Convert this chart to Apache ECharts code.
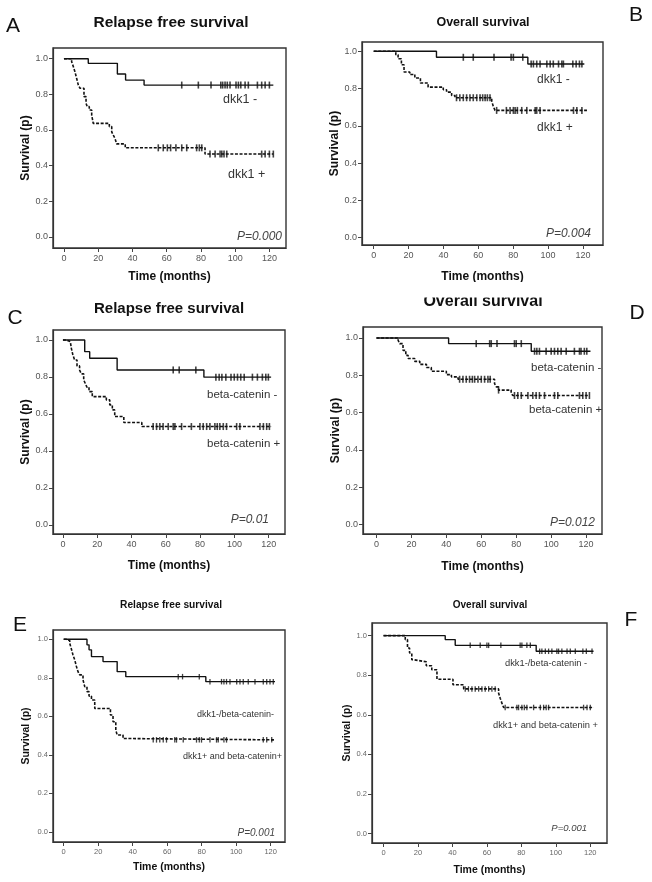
<!DOCTYPE html>
<html>
<head>
<meta charset="utf-8">
<script src="https://cdn.jsdelivr.net/npm/echarts@6/dist/echarts.min.js"></script>
<style>
  html, body { margin: 0; padding: 0; background: #fff; }
  #main { width: 652px; height: 882px; }
</style>
</head>
<body>
<div id="main"></div>
<script>
// tick values
var timeTicks = [0, 20, 40, 60, 80, 100, 120];
var survTicks = [0, 0.2, 0.4, 0.6, 0.8, 1.0];

// A - relapse free survival by dkk1  ([time, survival] after each step)
var aNeg = [[0,1],[14.2,0.974],[31.2,0.914],[36,0.88],[46.8,0.852],[122.3,0.852]];
var aNegCens = [68.8,78.5,85.9,91.6,92.7,94.1,95.4,97,100.5,101.9,103.3,105.8,107.7,113,115.5,117.5,120];
var aPos = [[0,1],[4.5,0.983],[5.5,0.955],[6.4,0.927],[7.4,0.89],[8.4,0.852],[9.4,0.834],[11.7,0.787],[12.9,0.75],
  [13.6,0.731],[14.8,0.712],[16.2,0.684],[17.1,0.637],[26.5,0.619],[27.9,0.59],[28.8,0.572],[29.8,0.553],[30.8,0.522],
  [35.8,0.5],[82.4,0.465],[122.3,0.465]];
var aPosCens = [55.1,58,60.4,62.3,65.4,68.8,71.7,77.5,79.1,80.5,85.3,88.3,91.2,92.2,93.5,95.1,115.5,117.5,120,122.3];

// B - overall survival by dkk1
var bNeg = [[0,1],[36,0.968],[88.4,0.932],[120.8,0.932]];
var bNegCens = [51.4,57.1,69,78.8,80.1,85.5,90.3,91.6,93.5,95.4,99.3,101.2,103,106,107.9,108.8,114.2,116.1,118,119.4];
var bPos = [[0,1],[12.7,0.982],[14,0.96],[15.9,0.928],[17.4,0.889],[20.7,0.876],[23.6,0.857],[26.8,0.83],[31.2,0.808],
  [39.9,0.794],[41.8,0.781],[44.7,0.763],[46.6,0.751],[67.7,0.733],[68.6,0.704],[69.6,0.683],[122.3,0.683]];
var bPosCens = [47.5,49.4,51.4,53.3,55.2,57.1,59.1,61,62.5,63.9,65.2,66.7,70.5,76.1,78.2,80.1,81.1,82.4,84.9,87.8,
  92.6,93.5,95.4,114.6,116.5,119.4];

// C - relapse free survival by beta-catenin
var cNeg = [[0,1],[12.7,0.937],[15.6,0.901],[31.6,0.838],[82.2,0.799],[121.4,0.799]];
var cNegCens = [64.3,67.8,77.5,89.2,91.1,92.7,95,98,99.9,101.8,103.7,105.7,110.5,113.4,116.3,118.3,119.8];
var cPos = [[0,1],[1.9,0.991],[4.3,0.986],[4.9,0.955],[5.8,0.919],[6.8,0.892],[8.2,0.86],[9.7,0.838],[10.7,0.817],
  [12.1,0.784],[13.2,0.761],[14,0.745],[15.2,0.721],[17.1,0.694],[25.3,0.676],[27.3,0.649],[28.8,0.622],[30.2,0.586],
  [35.5,0.554],[46,0.532],[121.4,0.532]];
var cPosCens = [52.6,54.6,56.5,58.4,61.4,64.3,65.3,69.2,74.9,79.9,81.8,83.8,85.7,88.6,90,91.5,93.5,95.4,101.3,103.2,
  114.9,116.9,118.8,120.4];

// D - overall survival by beta-catenin
var dNeg = [[0,1],[41.3,0.97],[88.6,0.929],[122.5,0.929]];
var dNegCens = [57.1,64.8,65.7,69,79,80,82.9,90.5,91.8,93.3,97.1,100,101.9,103.8,105.7,108.6,113.3,116.2,117.1,119,120.4];
var dPos = [[0,1],[12.4,0.988],[13.3,0.97],[15.2,0.934],[16.8,0.907],[18.1,0.89],[21.9,0.875],[24.8,0.859],[28.6,0.842],
  [31.4,0.822],[40,0.804],[42.9,0.792],[46.7,0.779],[67.6,0.756],[68.6,0.738],[69.9,0.721],[77.1,0.703],[78.1,0.692],[122,0.692]];
var dPosCens = [47.6,49.5,51.4,53.3,54.9,56.2,58.1,60,61.9,63.8,65.1,69.9,79,80.9,82.9,86.7,89.5,91.4,93.3,96.2,
  101.9,103.8,116.2,118.1,120,121.9];

// E - relapse free survival, combined groups
var eNeg = [[0,1],[13.5,0.971],[14.7,0.945],[16.1,0.91],[22.8,0.884],[31,0.832],[36,0.806],[82.4,0.78],[122.5,0.78]];
var eNegCens = [66.4,68.9,78.6,84.8,91.5,92.9,94.4,96.4,100.3,102.2,104.1,107,110.9,115.7,117.7,119.6,121.5];
var ePos = [[0,1],[1.5,0.993],[3.5,0.979],[4.5,0.948],[5.4,0.918],[6.4,0.893],[7.4,0.858],[8.3,0.832],[9.3,0.815],
  [11.2,0.789],[12.2,0.754],[13.5,0.728],[14.7,0.705],[16.1,0.685],[18,0.641],[27.1,0.607],[28.6,0.572],[30.2,0.529],
  [31,0.503],[34.4,0.485],[36.4,0.478],[121.9,0.478]];
var ePosCens = [51.9,53.8,55.7,57.7,59.6,64.4,65.4,69.3,77,78.6,79.9,84.8,88.6,89.6,92.9,94.4,115.7,117.7,120.6];

// F - overall survival, combined groups
var fNeg = [[0,1],[35.8,0.98],[41.6,0.951],[88.6,0.921],[121.9,0.921]];
var fNegCens = [50.3,56.1,60,61,68.1,79.3,80.3,83.2,85.2,90.6,91.9,93.9,95.8,97.7,100.6,101.6,103.5,106.5,108.4,111.3,
  115.7,117.7,121];
var fPos = [[0,1],[12.6,0.98],[13.9,0.938],[15.1,0.912],[16.4,0.878],[17.8,0.868],[24.8,0.848],[28,0.828],[31,0.78],
  [40.3,0.752],[46.5,0.731],[66.8,0.709],[67.7,0.684],[68.7,0.659],[69.7,0.637],[122,0.637]];
var fPosCens = [47.4,49.3,51.3,53.2,55.2,57.1,59,61,62.9,64.8,70.6,77.4,78.4,80.3,81.7,83.2,87.1,91,92.9,94.4,95.8,
  116.1,118.1,120];

var FONT = 'Arial, "Liberation Sans", sans-serif';

var panels = [
  { grid: {left: 53, top: 48, width: 233, height: 200}, x: [-6.4, 129.7], y: [-0.062, 1.06],
    neg: aNeg, negCens: aNegCens, pos: aPos, posCens: aPosCens, small: false, xGap: 23, yGap: 21 },
  { grid: {left: 362, top: 42, width: 241, height: 203}, x: [-6.7, 131.5], y: [-0.039, 1.05],
    neg: bNeg, negCens: bNegCens, pos: bPos, posCens: bPosCens, small: false, xGap: 26, yGap: 19 },
  { grid: {left: 53, top: 330, width: 232, height: 204}, x: [-5.8, 129.5], y: [-0.049, 1.054],
    neg: cNeg, negCens: cNegCens, pos: cPos, posCens: cPosCens, small: false, xGap: 26, yGap: 21 },
  { grid: {left: 363, top: 327, width: 239, height: 207}, x: [-7.7, 129.1], y: [-0.05, 1.059],
    neg: dNeg, negCens: dNegCens, pos: dPos, posCens: dPosCens, small: false, xGap: 27, yGap: 20 },
  { grid: {left: 53, top: 630, width: 232, height: 212}, x: [-6.2, 128.3], y: [-0.052, 1.048],
    neg: eNeg, negCens: eNegCens, pos: ePos, posCens: ePosCens, small: true, xGap: 20, yGap: 21 },
  { grid: {left: 372, top: 623, width: 235, height: 220}, x: [-6.7, 129.7], y: [-0.048, 1.064],
    neg: fNeg, negCens: fNegCens, pos: fPos, posCens: fPosCens, small: true, xGap: 22, yGap: 18 }
];

// value of a step curve at time t
function survAt(steps, t) {
  var s = steps[0][1];
  for (var i = 0; i < steps.length; i++) {
    if (steps[i][0] <= t) s = steps[i][1];
  }
  return s;
}

var grids = [], xAxes = [], yAxes = [], series = [];
panels.forEach(function (p, i) {
  grids.push(Object.assign({
    show: true, borderColor: '#333', borderWidth: 1.4,
    containLabel: false, outerBoundsMode: 'none'
  }, p.grid));

  xAxes.push({
    type: 'value', gridIndex: i, min: p.x[0], max: p.x[1],
    axisLine: {show: true, onZero: false, lineStyle: {color: '#333', width: 1.2}},
    axisTick: {show: true, customValues: timeTicks, length: 4, lineStyle: {color: '#444'}},
    axisLabel: {customValues: timeTicks, fontSize: p.small ? 7.5 : 9, color: p.small ? '#666' : '#555',
      margin: 6, fontFamily: FONT},
    splitLine: {show: false},
    name: 'Time (months)', nameLocation: 'middle', nameGap: p.xGap,
    nameTextStyle: {fontWeight: 'bold', fontSize: p.small ? 10.5 : 12, color: '#111', fontFamily: FONT}
  });

  yAxes.push({
    type: 'value', gridIndex: i, min: p.y[0], max: p.y[1],
    axisLine: {show: true, onZero: false, lineStyle: {color: '#333', width: 1.2}},
    axisTick: {show: true, customValues: survTicks, length: 4, lineStyle: {color: '#444'}},
    axisLabel: {customValues: survTicks, fontSize: p.small ? 7.5 : 9, color: p.small ? '#666' : '#555',
      margin: 5, fontFamily: FONT, formatter: function (v) { return v.toFixed(1); }},
    splitLine: {show: false},
    name: 'Survival (p)', nameLocation: 'middle', nameGap: p.yGap,
    nameTextStyle: {fontWeight: 'bold', fontSize: p.small ? 10.5 : 12, color: '#111', fontFamily: FONT}
  });

  // negative group: solid; positive group: dashed
  series.push({
    type: 'line', xAxisIndex: i, yAxisIndex: i, data: p.neg, step: 'end',
    symbol: 'none', silent: true, lineStyle: {color: '#111', width: 1.4}
  });
  series.push({
    type: 'line', xAxisIndex: i, yAxisIndex: i, data: p.pos, step: 'end',
    symbol: 'none', silent: true, lineStyle: {color: '#111', width: 1.6, type: [3, 1.6]}
  });
  [[p.negCens, p.neg], [p.posCens, p.pos]].forEach(function (pair) {
    series.push({
      type: 'scatter', xAxisIndex: i, yAxisIndex: i, silent: true,
      data: pair[0].map(function (t) { return [t, survAt(pair[1], t)]; }),
      symbol: 'rect', symbolSize: p.small ? [1.3, 5.5] : [1.6, 7],
      itemStyle: {color: '#111'}
    });
  });
});

function txt(text, x, y, size, opts) {
  opts = opts || {};
  var align = opts.align || 'left';
  return {
    type: 'text', z: 50,
    style: {
      text: text, x: x, y: y, fill: opts.color || '#333',
      font: (opts.style || 'normal') + ' ' + (opts.weight || 'normal') + ' ' + size + 'px ' + FONT,
      textAlign: align, align: align, textVerticalAlign: 'middle', verticalAlign: 'middle'
    }
  };
}

var graphics = [
  // panel letters
  txt('A', 13, 26, 21, {align: 'center', color: '#111'}),
  txt('B', 636, 15, 21, {align: 'center', color: '#111'}),
  txt('C', 15, 318, 21, {align: 'center', color: '#111'}),
  txt('D', 637, 313, 21, {align: 'center', color: '#111'}),
  txt('E', 20, 625, 21, {align: 'center', color: '#111'}),
  txt('F', 631, 620, 21, {align: 'center', color: '#111'}),
  // panel titles
  txt('Relapse free survival', 171, 23, 15.5, {align: 'center', weight: 'bold', color: '#111'}),
  txt('Overall survival', 483, 23, 12.5, {align: 'center', weight: 'bold', color: '#111'}),
  txt('Relapse free survival', 169, 309, 15, {align: 'center', weight: 'bold', color: '#111'}),
  txt('Overall survival', 483, 302, 16, {align: 'center', weight: 'bold', color: '#111'}),
  txt('Relapse free survival', 171, 605, 10.2, {align: 'center', weight: 'bold', color: '#111'}),
  txt('Overall survival', 490, 605, 10, {align: 'center', weight: 'bold', color: '#111'}),
  // p values
  txt('P=0.000', 282, 237, 12, {align: 'right', style: 'italic', color: '#444'}),
  txt('P=0.004', 591, 234, 12, {align: 'right', style: 'italic', color: '#444'}),
  txt('P=0.01', 269, 520, 12, {align: 'right', style: 'italic', color: '#444'}),
  txt('P=0.012', 595, 523, 12, {align: 'right', style: 'italic', color: '#444'}),
  txt('P=0.001', 275, 833, 10, {align: 'right', style: 'italic', color: '#444'}),
  txt('P=0.001', 587, 828, 9.5, {align: 'right', style: 'italic', color: '#444'}),
  // group labels
  txt('dkk1 -', 223, 100, 12.5),
  txt('dkk1 +', 228, 175, 12.5),
  txt('dkk1 -', 537, 80, 12),
  txt('dkk1 +', 537, 128, 12),
  txt('beta-catenin -', 207, 395, 11.5),
  txt('beta-catenin +', 207, 444, 11.5),
  txt('beta-catenin -', 531, 368, 11.5),
  txt('beta-catenin +', 529, 410, 11.5),
  txt('dkk1-/beta-catenin-', 197, 715, 9),
  txt('dkk1+ and beta-catenin+', 183, 757, 9),
  txt('dkk1-/beta-catenin -', 505, 663, 9.3),
  txt('dkk1+ and beta-catenin +', 493, 725, 9.3),
  // the top of panel D's title is cut off in the source figure
  {type: 'rect', z: 100, shape: {x: 400, y: 282, width: 170, height: 15.5}, style: {fill: '#fff'}}
];

var chart = echarts.init(document.getElementById('main'), null, {renderer: 'canvas'});
chart.setOption({
  backgroundColor: '#fff',
  animation: false,
  grid: grids,
  xAxis: xAxes,
  yAxis: yAxes,
  series: series,
  graphic: graphics
});
</script>
</body>
</html>
